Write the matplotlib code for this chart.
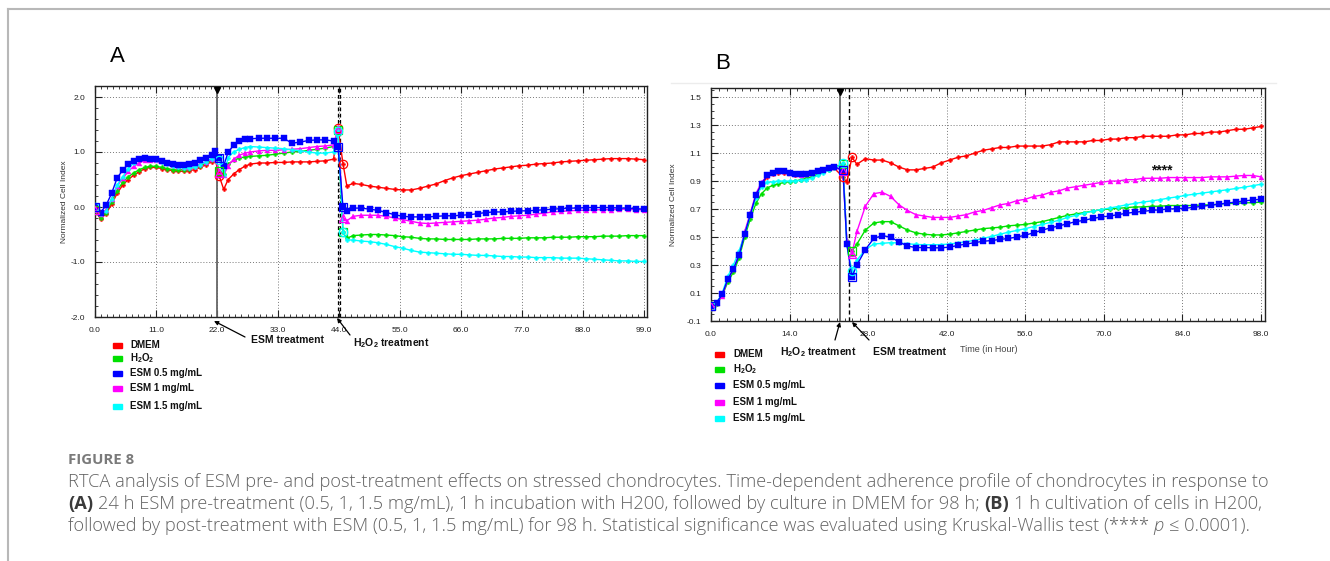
import matplotlib
matplotlib.use('Agg')
import numpy as np
import matplotlib.pyplot as plt
from matplotlib.lines import Line2D
from matplotlib.patches import Rectangle
from matplotlib.ticker import MultipleLocator, AutoMinorLocator, FixedLocator, FormatStrFormatter
from matplotlib.transforms import blended_transform_factory

plt.rcParams['font.family'] = ['Liberation Sans', 'DejaVu Sans']
plt.rcParams['axes.unicode_minus'] = False
plt.rcParams['mathtext.fontset'] = 'custom'
plt.rcParams['mathtext.rm'] = 'Liberation Sans'
plt.rcParams['mathtext.bf'] = 'Liberation Sans:bold'

# ── DATA: panel A (pre-treatment) ─────────────────────────────────────────────
TIME_A = [0, 1, 2, 3, 4, 5, 6, 7, 8, 9, 10, 11, 12, 13, 14, 15, 16, 17, 18, 19, 20, 21, 21.7,
          22.4, 23.2, 24, 25, 26, 27, 28, 29.5, 31, 32.5, 34, 35.5, 37, 38.5, 40, 41.5, 43, 43.8,
          44.7, 45.4, 46.5, 48, 49.5, 51, 52.5, 54, 55.5, 57,
          58.5, 60, 61.5, 63, 64.5, 66, 67.5, 69, 70.5, 72,
          73.5, 75, 76.5, 78, 79.5, 81, 82.5, 84, 85.5, 87,
          88.5, 90, 91.5, 93, 94.5, 96, 97.5, 99]
DMEM_A = [-0.05, -0.22, -0.12, 0.05, 0.25, 0.40, 0.50, 0.58, 0.64, 0.70, 0.72, 0.72, 0.70, 0.68, 0.66, 0.65, 0.65, 0.66, 0.68, 0.72, 0.77, 0.82, 0.85,
          0.56, 0.32, 0.50, 0.60, 0.68, 0.74, 0.78, 0.80, 0.80, 0.81, 0.81, 0.82, 0.82, 0.82, 0.83, 0.84, 0.87, 1.43,
          0.79, 0.38, 0.43, 0.41, 0.38, 0.36, 0.34, 0.32, 0.31, 0.31,
          0.34, 0.38, 0.42, 0.48, 0.53, 0.57, 0.60, 0.63, 0.66, 0.69,
          0.71, 0.73, 0.75, 0.76, 0.78, 0.79, 0.80, 0.82, 0.83, 0.84,
          0.85, 0.86, 0.87, 0.88, 0.88, 0.88, 0.87, 0.86]
H2O2_A = [-0.05, -0.20, -0.10, 0.10, 0.30, 0.45, 0.55, 0.62, 0.68, 0.72, 0.74, 0.74, 0.72, 0.70, 0.68, 0.67, 0.68, 0.70, 0.72, 0.75, 0.80, 0.85, 0.90,
          0.65, 0.60, 0.78, 0.85, 0.89, 0.91, 0.92, 0.93, 0.94, 0.96, 0.98, 1.00, 1.01, 1.03, 1.05, 1.07, 1.10, 1.40,
          -0.46, -0.57, -0.52, -0.51, -0.50, -0.50, -0.51, -0.52, -0.54, -0.55,
          -0.57, -0.58, -0.58, -0.59, -0.59, -0.59, -0.59, -0.58, -0.58, -0.58,
          -0.57, -0.57, -0.57, -0.56, -0.56, -0.56, -0.55, -0.55, -0.55, -0.54,
          -0.54, -0.54, -0.53, -0.53, -0.53, -0.52, -0.52, -0.52]
ESM05_A = [0.00, -0.10, 0.03, 0.25, 0.53, 0.67, 0.78, 0.83, 0.87, 0.90, 0.88, 0.87, 0.84, 0.80, 0.78, 0.76, 0.76, 0.78, 0.80, 0.85, 0.90, 0.95, 1.01,
           0.90, 0.75, 1.00, 1.12, 1.20, 1.23, 1.24, 1.25, 1.25, 1.25, 1.25, 1.16, 1.18, 1.21, 1.22, 1.22, 1.20, 1.10,
           0.00, -0.08, -0.02, -0.02, -0.04, -0.06, -0.10, -0.14, -0.17, -0.18,
           -0.18, -0.18, -0.17, -0.16, -0.16, -0.15, -0.14, -0.12, -0.10, -0.09,
           -0.09, -0.08, -0.07, -0.07, -0.06, -0.05, -0.04, -0.03, -0.02, -0.02,
           -0.01, -0.01, -0.01, -0.01, -0.02, -0.02, -0.03, -0.04]
ESM1_A = [-0.05, -0.12, -0.05, 0.15, 0.38, 0.52, 0.65, 0.74, 0.80, 0.85, 0.86, 0.85, 0.83, 0.80, 0.77, 0.74, 0.73, 0.73, 0.75, 0.78, 0.82, 0.87, 0.90,
          0.62, 0.58, 0.75, 0.87, 0.94, 0.98, 1.00, 1.02, 1.03, 1.03, 1.04, 1.05, 1.06, 1.08, 1.10, 1.11, 1.13, 1.42,
          -0.20, -0.25, -0.17, -0.15, -0.15, -0.15, -0.17, -0.20, -0.23, -0.26,
          -0.29, -0.30, -0.29, -0.28, -0.27, -0.26, -0.25, -0.24, -0.22, -0.20,
          -0.19, -0.17, -0.16, -0.15, -0.13, -0.11, -0.09, -0.08, -0.07, -0.06,
          -0.06, -0.05, -0.05, -0.05, -0.04, -0.04, -0.05, -0.05]
ESM15_A = [0.00, -0.12, -0.08, 0.15, 0.40, 0.55, 0.70, 0.80, 0.88, 0.90, 0.88, 0.85, 0.82, 0.78, 0.75, 0.72, 0.71, 0.71, 0.73, 0.77, 0.82, 0.88, 0.97,
           0.85, 0.58, 0.90, 1.00, 1.05, 1.08, 1.10, 1.09, 1.08, 1.07, 1.06, 1.04, 1.02, 1.00, 0.98, 0.98, 1.00, 1.38,
           -0.45, -0.60, -0.60, -0.62, -0.63, -0.65, -0.68, -0.72, -0.75, -0.79,
           -0.82, -0.83, -0.84, -0.85, -0.86, -0.86, -0.87, -0.88, -0.88, -0.89,
           -0.90, -0.90, -0.91, -0.91, -0.92, -0.92, -0.92, -0.93, -0.93, -0.93,
           -0.94, -0.95, -0.96, -0.97, -0.98, -0.98, -0.99, -0.99]
OPEN_A = [0, 23, 40, 41]          # points drawn with large open symbols
TREAT_A = [22, 44]                # ESM treatment, H2O2 treatment

# ── DATA: panel B (post-treatment) ────────────────────────────────────────────
TIME_B = [0, 1, 2, 3, 4, 5, 6, 7, 8, 9, 10, 11, 12, 13, 14, 15, 16, 17, 18, 19, 20, 21, 22,
          23.5, 24.2, 25.1,
          26, 27.5, 29, 30.5, 32, 33.5, 35, 36.5, 38, 39.5,
          41, 42.5, 44, 45.5, 47, 48.5, 50, 51.5, 53, 54.5,
          56, 57.5, 59, 60.5, 62, 63.5, 65, 66.5, 68, 69.5,
          71, 72.5, 74, 75.5, 77, 78.5, 80, 81.5, 83, 84.5,
          86, 87.5, 89, 90.5, 92, 93.5, 95, 96.5, 98]
DMEM_B = [0.01, 0.03, 0.09, 0.20, 0.27, 0.37, 0.52, 0.66, 0.79, 0.87, 0.93, 0.95, 0.96, 0.96, 0.955, 0.945, 0.94, 0.945, 0.955, 0.965, 0.975, 0.985, 0.99,
          0.93, 0.89, 1.07,
          1.02, 1.06, 1.05, 1.05, 1.03, 1.00, 0.98, 0.98, 0.99, 1.00,
          1.03, 1.05, 1.07, 1.08, 1.10, 1.12, 1.13, 1.14, 1.14, 1.15,
          1.15, 1.15, 1.15, 1.16, 1.18, 1.18, 1.18, 1.18, 1.19, 1.19,
          1.20, 1.20, 1.21, 1.21, 1.22, 1.22, 1.22, 1.22, 1.23, 1.23,
          1.24, 1.24, 1.25, 1.25, 1.26, 1.27, 1.27, 1.28, 1.29]
H2O2_B = [0.01, 0.02, 0.08, 0.18, 0.25, 0.35, 0.50, 0.63, 0.74, 0.81, 0.85, 0.87, 0.88, 0.89, 0.895, 0.90, 0.91, 0.92, 0.93, 0.95, 0.97, 0.98, 1.00,
          1.02, 0.47, 0.40,
          0.45, 0.55, 0.60, 0.61, 0.61, 0.58, 0.55, 0.53, 0.52, 0.515,
          0.515, 0.52, 0.53, 0.54, 0.55, 0.56, 0.565, 0.57, 0.58, 0.585,
          0.59, 0.60, 0.61, 0.625, 0.64, 0.655, 0.665, 0.675, 0.685, 0.695,
          0.70, 0.705, 0.71, 0.715, 0.715, 0.72, 0.72, 0.725, 0.725, 0.725,
          0.725, 0.73, 0.73, 0.735, 0.74, 0.74, 0.745, 0.745, 0.75]
ESM05_B = [0.01, 0.03, 0.09, 0.20, 0.27, 0.37, 0.52, 0.66, 0.80, 0.88, 0.94, 0.96, 0.97, 0.97, 0.96, 0.95, 0.95, 0.95, 0.96, 0.97, 0.98, 0.99, 1.00,
           0.98, 0.45, 0.215,
           0.30, 0.41, 0.49, 0.51, 0.50, 0.465, 0.435, 0.425, 0.425, 0.423,
           0.423, 0.428, 0.44, 0.45, 0.46, 0.47, 0.475, 0.483, 0.49, 0.50,
           0.514, 0.53, 0.55, 0.565, 0.58, 0.595, 0.61, 0.62, 0.633, 0.643,
           0.65, 0.66, 0.67, 0.677, 0.684, 0.69, 0.695, 0.70, 0.703, 0.706,
           0.712, 0.72, 0.727, 0.735, 0.743, 0.75, 0.758, 0.765, 0.77]
ESM1_B = [0.01, 0.03, 0.08, 0.20, 0.27, 0.38, 0.54, 0.67, 0.81, 0.89, 0.94, 0.96, 0.97, 0.97, 0.96, 0.95, 0.94, 0.95, 0.96, 0.97, 0.98, 0.99, 1.00,
          0.97, 0.48, 0.38,
          0.54, 0.72, 0.81, 0.82, 0.79, 0.73, 0.69, 0.66, 0.65, 0.64,
          0.64, 0.64, 0.65, 0.66, 0.68, 0.69, 0.71, 0.73, 0.74, 0.76,
          0.77, 0.79, 0.80, 0.82, 0.83, 0.85, 0.86, 0.87, 0.88, 0.89,
          0.90, 0.90, 0.91, 0.91, 0.92, 0.92, 0.92, 0.925, 0.925, 0.925,
          0.925, 0.925, 0.93, 0.93, 0.93, 0.935, 0.94, 0.94, 0.93]
ESM15_B = [0.01, 0.03, 0.10, 0.22, 0.30, 0.40, 0.52, 0.66, 0.78, 0.86, 0.89, 0.895, 0.90, 0.90, 0.90, 0.90, 0.905, 0.91, 0.92, 0.94, 0.96, 0.98, 0.99,
           1.03, 0.44, 0.26,
           0.335, 0.41, 0.45, 0.455, 0.46, 0.457, 0.452, 0.447, 0.445, 0.445,
           0.446, 0.45, 0.458, 0.467, 0.477, 0.49, 0.505, 0.52, 0.535, 0.547,
           0.56, 0.575, 0.59, 0.605, 0.62, 0.64, 0.655, 0.67, 0.685, 0.696,
           0.707, 0.718, 0.73, 0.74, 0.75, 0.758, 0.767, 0.778, 0.787, 0.797,
           0.806, 0.814, 0.822, 0.83, 0.838, 0.847, 0.856, 0.867, 0.877]
OPEN_B = [0, 23, 25]
TREAT_B = [23.0, 24.66]           # H2O2 treatment, ESM treatment
SIG_B = (80.3, 0.975, '****')

LEGEND = ['DMEM', r'H$_\mathbf{2}$O$_\mathbf{2}$', 'ESM 0.5 mg/mL', 'ESM 1 mg/mL', 'ESM 1.5 mg/mL']
COLORS = ['#ff0000', '#00e000', '#0000ff', '#ff00ff', '#00ffff']
MARKERS = ['P', 'P', 's', '^', 'P']
MSIZES = [3.0, 3.0, 3.7, 3.6, 3.0]
OPEN_MK = ['o', 's', 's', '^', 'o']

# ── LAYOUT HELPERS ────────────────────────────────────────────────────────────
W, H = 1330, 561
def fx(px):
    return px / W
def fy(py):
    return 1 - py / H

fig = plt.figure(figsize=(W / 100, H / 100), dpi=100)
fig.patch.set_facecolor('white')

ax_a = fig.add_axes([fx(95), fy(317), (647 - 95) / W, (317 - 86) / H])
ax_b = fig.add_axes([fx(711), fy(321), (1265 - 711) / W, (321 - 88) / H])


def style_axes(ax, xlim, ylim, xstep, xminor, yticks, yminor, label_dx):
    ax.set_xlim(*xlim)
    ax.set_ylim(*ylim)
    ax.xaxis.set_major_locator(MultipleLocator(xstep))
    ax.xaxis.set_minor_locator(AutoMinorLocator(xminor))
    ax.yaxis.set_major_locator(FixedLocator(yticks))
    ax.yaxis.set_minor_locator(AutoMinorLocator(yminor))
    ax.xaxis.set_major_formatter(FormatStrFormatter('%.1f'))
    ax.yaxis.set_major_formatter(FormatStrFormatter('%.1f'))
    ax.tick_params(which='both', direction='in', top=True, right=False,
                   labelsize=6, colors='#222')
    ax.tick_params(which='major', length=5, width=0.8, pad=7)
    ax.tick_params(which='minor', length=2.5, width=0.6)
    ax.grid(True, which='major', ls=(0, (1, 2)), color='#777', lw=0.7)
    for sp in ax.spines.values():
        sp.set_color('#222')
        sp.set_linewidth(1.0)
    ax.set_ylabel('Normalized Cell Index', fontsize=6, color='#333')
    ax.yaxis.set_label_coords(label_dx, 0.5)


def draw_series(ax, t, series, open_idx):
    t = np.asarray(t)
    for vals, col, mk, ms, omk in series:
        vals = np.asarray(vals)
        ax.plot(t, vals, color=col, lw=1.0, marker=mk, ms=ms, mec=col, mfc=col,
                mew=0.3, zorder=3)
        ax.plot(t[open_idx], vals[open_idx], ls='none', marker=omk, ms=6,
                mfc='none', mec=col, mew=0.9, zorder=4)


def draw_treatments(ax, x_solid, x_dashed, double=False):
    ax.axvline(x_solid, color='#666', lw=1.3, zorder=2)
    if double:
        ax.axvline(x_dashed - 0.2, color='k', lw=0.9, ls=(0, (3, 2)), zorder=2)
        ax.axvline(x_dashed + 0.25, color='k', lw=0.9, ls=(0, (3, 2)), zorder=2)
    else:
        ax.axvline(x_dashed, color='k', lw=1.0, ls=(0, (3, 2)), zorder=2)
    tr = blended_transform_factory(ax.transData, ax.transAxes)
    ax.plot([x_solid], [1 - 3.5 / 231], marker='v', color='k', ms=5,
            transform=tr, clip_on=False, zorder=5)


order = [0, 1, 3, 4, 2]
series_a = [(v, COLORS[i], MARKERS[i], MSIZES[i], OPEN_MK[i]) for i, v in
            enumerate([DMEM_A, H2O2_A, ESM05_A, ESM1_A, ESM15_A])]
series_b = [(v, COLORS[i], MARKERS[i], MSIZES[i], OPEN_MK[i]) for i, v in
            enumerate([DMEM_B, H2O2_B, ESM05_B, ESM1_B, ESM15_B])]

style_axes(ax_a, (0, 99.5), (-2.0, 2.2), 11, 10, [-2, -1, 0, 1, 2], 5, -(95 - 68) / 552)
draw_treatments(ax_a, TREAT_A[0], TREAT_A[1], double=True)
draw_series(ax_a, TIME_A, [series_a[i] for i in order], OPEN_A)

style_axes(ax_b, (0, 98.7), (-0.1, 1.565), 14, 10,
           [-0.1, 0.1, 0.3, 0.5, 0.7, 0.9, 1.1, 1.3, 1.5], 4, -(711 - 677) / 554)
draw_treatments(ax_b, TREAT_B[0], TREAT_B[1])
draw_series(ax_b, TIME_B, [series_b[i] for i in order], OPEN_B)
ax_b.text(SIG_B[0], SIG_B[1], SIG_B[2], ha='center', va='center', fontsize=10,
          fontweight='bold', color='#111', zorder=6)

# ── PANEL LETTERS, LEGENDS, ANNOTATIONS ───────────────────────────────────────
fig.text(fx(117), fy(56), 'A', fontsize=16, ha='center', va='center')
fig.text(fx(723), fy(64), 'B', fontsize=16, ha='center', va='center')


def legend_block(x_patch, x_text, rows):
    for (lab, col, yy) in zip(LEGEND, COLORS, rows):
        fig.patches.append(Rectangle((fx(x_patch), fy(yy + 2.5)), 9 / W, 5 / H,
                                     transform=fig.transFigure, color=col))
        fig.text(fx(x_text), fy(yy), lab, fontsize=7, fontweight='bold',
                 ha='left', va='center', color='#111')


legend_block(113, 130, [345, 358, 373, 388, 406])
legend_block(715, 733, [354, 369, 385, 402, 418])


def arrow(tail, head):
    fig.add_artist(matplotlib.patches.FancyArrowPatch(
        (fx(tail[0]), fy(tail[1])), (fx(head[0]), fy(head[1])),
        transform=fig.transFigure, arrowstyle='-|>', mutation_scale=6,
        lw=0.9, color='k', shrinkA=0, shrinkB=0))


def note(x, y, s):
    fig.text(fx(x), fy(y), s, fontsize=7.5, fontweight='bold', ha='left',
             va='center', color='#111')


arrow((245, 337), (214, 321))
note(251, 340, 'ESM treatment')
arrow((350, 335), (337, 318))
note(353, 343, r'H$_\mathbf{2}$O$_\mathbf{2}$ treatment')
arrow((835, 340), (840, 322))
note(780, 352, r'H$_\mathbf{2}$O$_\mathbf{2}$ treatment')
arrow((869, 340), (852, 322))
note(873, 352, 'ESM treatment')
fig.text(fx(960), fy(349), 'Time (in Hour)', fontsize=6.5, ha='left',
         va='center', color='#444')

# ── FRAME ─────────────────────────────────────────────────────────────────────
fig.add_artist(Line2D([fx(8), 1], [fy(9), fy(9)], transform=fig.transFigure,
                      color='#b8b8b8', lw=1.5))
fig.add_artist(Line2D([fx(8), fx(8)], [fy(9), 0], transform=fig.transFigure,
                      color='#b8b8b8', lw=1.5))
fig.add_artist(Line2D([fx(671), fx(1276)], [fy(83), fy(83)], transform=fig.transFigure,
                      color='#ececec', lw=1))

# ── CAPTION ───────────────────────────────────────────────────────────────────
CAP_FONT = ['Open Sans', 'DejaVu Sans']
CAP_GRAY = '#626262'
CAP_DARK = '#3a3a3a'
renderer = fig.canvas.get_renderer()


def text_width(s, size, **kw):
    t = fig.text(0, 0, s, fontsize=size, family=CAP_FONT, **kw)
    w = t.get_window_extent(renderer).width
    t.remove()
    return w


line1 = ('RTCA analysis of ESM pre- and post-treatment effects on stressed chondrocytes. '
         'Time-dependent adherence profile of chondrocytes in response to')
cap_size = 11 * 1207 / text_width(line1, 11, fontweight='light')
space_w = (text_width('x x', cap_size, fontweight='light')
           - text_width('xx', cap_size, fontweight='light'))


def draw_runs(x_px, y_px, runs):
    x = x_px
    for s, kw in runs:
        lead = len(s) - len(s.lstrip(' '))
        trail = len(s) - len(s.rstrip(' '))
        core = s.strip(' ')
        x += lead * space_w
        t = fig.text(fx(x), fy(y_px), core, fontsize=cap_size, family=CAP_FONT,
                     ha='left', va='center', **kw)
        x += t.get_window_extent(renderer).width + trail * space_w


normal = dict(color=CAP_GRAY, fontweight='light')
bold = dict(color=CAP_DARK, fontweight='bold')
ital = dict(color=CAP_GRAY, style='italic', fontweight='light')

fig.text(fx(68), fy(460), 'FIGURE 8', fontsize=cap_size * 0.82, family=CAP_FONT,
         fontweight='bold', color='#7a7a7a', ha='left', va='center')
draw_runs(68, 482, [(line1, normal)])
draw_runs(68, 504, [('(A)', bold),
                    (' 24 h ESM pre-treatment (0.5, 1, 1.5 mg/mL), 1 h incubation with H200, '
                     'followed by culture in DMEM for 98 h; ', normal),
                    ('(B)', bold),
                    (' 1 h cultivation of cells in H200,', normal)])
draw_runs(68, 526, [('followed by post-treatment with ESM (0.5, 1, 1.5 mg/mL) for 98 h. '
                     'Statistical significance was evaluated using Kruskal-Wallis test (**** ', normal),
                    ('p', ital),
                    (' \u2264 0.0001).', normal)])

fig.savefig('out.png', dpi=100)
